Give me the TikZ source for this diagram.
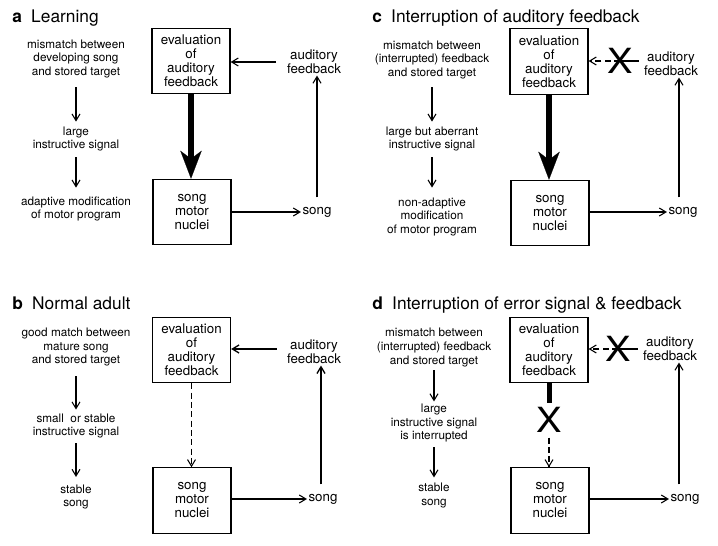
\documentclass[tikz,border=0pt]{standalone}
\usepackage{fontspec}
\setmainfont{TeX Gyre Heros}
\usetikzlibrary{arrows.meta}
\newcommand\notesize{\fontsize{8.8}{10.3}\selectfont}
\newcommand\boxtextsize{\fontsize{10}{10.5}\selectfont}
\newcommand\titlesize{\fontsize{13}{15}\selectfont}
\newcommand\crosssize{\fontsize{26}{26}\selectfont}

\begin{document}
\begin{tikzpicture}[x=0.75pt,y=0.75pt,yscale=-1,
    stagebox/.style={draw, line width=0.9pt, minimum width=58.5pt, minimum height=49pt, inner sep=0pt, align=center, font=\boxtextsize},
    steptext/.style={inner sep=1pt, align=center, font=\notesize},
    fbtext/.style={inner sep=1pt, align=center, font=\boxtextsize},
    paneltitle/.style={anchor=base west, inner sep=0pt, font=\titlesize},
    xmark/.style={inner sep=0pt, font=\crosssize, xscale=1.1},
    flow/.style={line width=0.8pt, -{Straight Barb[length=5pt,width=6pt]}},
    dashflow/.style={flow, dash pattern=on 4.5pt off 2.5pt},
    bigflow/.style={line width=4.5pt, -{Stealth[length=21pt,width=16pt,inset=6pt,line width=0.1pt]}}]
\path[use as bounding box] (0,0) rectangle (718,546);

%Panel a: Learning
\node[paneltitle] (a-title) at (12,22) {\textbf{a}\hspace{7pt}Learning};
% Text Node
\node[steptext] (a-t1) at (76,59) {mismatch between\\developing song\\and stored target};
\node[steptext] (a-t2) at (76,139) {large\\instructive signal};
\node[steptext] (a-t3) at (76,209) {adaptive modification\\of motor program};
%Shape: Rectangle
\node[stagebox] (a-eval) at (191,61) {evaluation\\of\\auditory\\feedback};
\node[stagebox] (a-motor) at (192,212) {song\\motor\\nuclei};
\node[fbtext] (a-song) at (317,212) {song};
\node[fbtext] (a-fb) at (314,62) {auditory\\feedback};
%Straight Lines
\draw[flow, shorten <=5.6pt, shorten >=2.5pt] (a-t1) -- (a-t2);
\draw[flow, shorten <=3.3pt, shorten >=5.5pt] (a-t2) -- (a-t3);
\draw[bigflow] (a-eval.south) -- (a-eval.south |- a-motor.north);
\draw[flow] (a-motor) -- (a-song);
\draw[flow, shorten <=6pt] (a-song.north) -- (a-song.north |- a-fb.south);
\draw[flow, shorten <=7pt] (a-fb.west) -- (a-fb.west -| a-eval.east);

%Panel b: Normal adult
\node[paneltitle] (b-title) at (12,309) {\textbf{b}\hspace{7pt}Normal adult};
% Text Node
\node[steptext] (b-t1) at (76,347) {good match between\\mature song\\and stored target};
\node[steptext] (b-t2) at (76,426) {small~ or stable\\instructive signal};
\node[steptext] (b-t3) at (76,497) {stable\\song};
%Shape: Rectangle
\node[stagebox] (b-eval) at (191.5,350) {evaluation\\of\\auditory\\feedback};
\node[stagebox] (b-motor) at (192,500.5) {song\\motor\\nuclei};
\node[fbtext] (b-song) at (323,499) {song};
\node[fbtext] (b-fb) at (314,352) {auditory\\feedback};
%Straight Lines
\draw[flow, shorten <=6.4pt, shorten >=1.8pt] (b-t1) -- (b-t2);
\draw[flow, shorten <=2.5pt, shorten >=4.5pt] (b-t2) -- (b-t3);
\draw[dashflow] (b-eval.south) -- (b-eval.south |- b-motor.north);
\draw[flow] (b-motor.east |- b-song) -- (b-song);
\draw[flow, line width=1pt, shorten <=6pt] (b-song.north -| 321,0) -- (321,0 |- b-fb.south);
\draw[flow, line width=1pt, shorten <=6.5pt] (b-fb.west |- 0,349) -- (b-eval.east |- 0,349);

%Panel c: Interruption of auditory feedback
\node[paneltitle] (c-title) at (372,22) {\textbf{c}\hspace{7pt}Interruption of auditory feedback};
% Text Node
\node[steptext] (c-t1) at (432,60) {mismatch between\\(interrupted) feedback\\and stored target};
\node[steptext] (c-t2) at (432,139) {large but aberrant\\instructive signal};
\node[steptext] (c-t3) at (432,217) {non-adaptive\\modification\\of motor program};
%Shape: Rectangle
\node[stagebox] (c-eval) at (549,61.5) {evaluation\\of\\auditory\\feedback};
\node[stagebox] (c-motor) at (550,213) {song\\motor\\nuclei};
\node[fbtext] (c-song) at (683,212) {song};
\node[fbtext] (c-fb) at (671,64) {auditory\\feedback};
\node[xmark] (c-x) at (620,61) {X};
%Straight Lines
\draw[flow, shorten <=4.9pt, shorten >=2.5pt] (c-t1) -- (c-t2);
\draw[flow, shorten <=3.3pt, shorten >=6.4pt] (c-t2) -- (c-t3);
\draw[bigflow] (c-eval.south) -- (c-eval.south |- c-motor.north);
\draw[flow] (c-motor.east |- c-song) -- (c-song);
\draw[flow, shorten <=6pt] (c-song.north -| 679,0) -- (679,0 |- c-fb.south);
\draw[line width=0.8pt, shorten >=2.7pt] (c-x.center) -- (c-x.center -| c-fb.west);
\draw[dashflow] (c-x.center) -- (c-x.center -| c-eval.east);

%Panel d: Interruption of error signal & feedback
\node[paneltitle] (d-title) at (372,309) {\textbf{d}\hspace{7pt}Interruption of error signal \& feedback};
% Text Node
\node[steptext] (d-t1) at (434,347.5) {mismatch between\\(interrupted) feedback\\and stored target};
\node[steptext] (d-t2) at (434,423) {large\\instructive signal\\is interrupted};
\node[steptext] (d-t3) at (434,495.5) {stable\\song};
%Shape: Rectangle
\node[stagebox] (d-eval) at (549,350) {evaluation\\of\\auditory\\feedback};
\node[stagebox] (d-motor) at (550,500.5) {song\\motor\\nuclei};
\node[fbtext] (d-song) at (685,499) {song};
\node[fbtext] (d-fb) at (670,349) {auditory\\feedback};
\node[xmark] (d-fx) at (618,349) {X};
\node[xmark] (d-dx) at (549,420) {X};
%Straight Lines
\draw[flow, shorten <=1.5pt, shorten >=0.5pt] (d-t1) -- (d-t2);
\draw[flow, shorten <=2.6pt, shorten >=3pt] (d-t2) -- (d-t3);
\draw[line width=3.75pt, shorten >=3.4pt] (d-eval.south) -- (d-dx.north);
\draw[dashflow, shorten <=3.5pt] (d-dx.south) -- (d-dx.south |- d-motor.north);
\draw[flow] (d-motor.east |- d-song) -- (d-song);
\draw[flow, shorten <=6pt] (d-song.north -| 679,0) -- (679,0 |- d-fb.south);
\draw[line width=0.8pt, shorten >=2.7pt] (d-fx.center) -- (d-fx.center -| d-fb.west);
\draw[dashflow] (d-fx.center) -- (d-fx.center -| d-eval.east);

\end{tikzpicture}
\end{document}
